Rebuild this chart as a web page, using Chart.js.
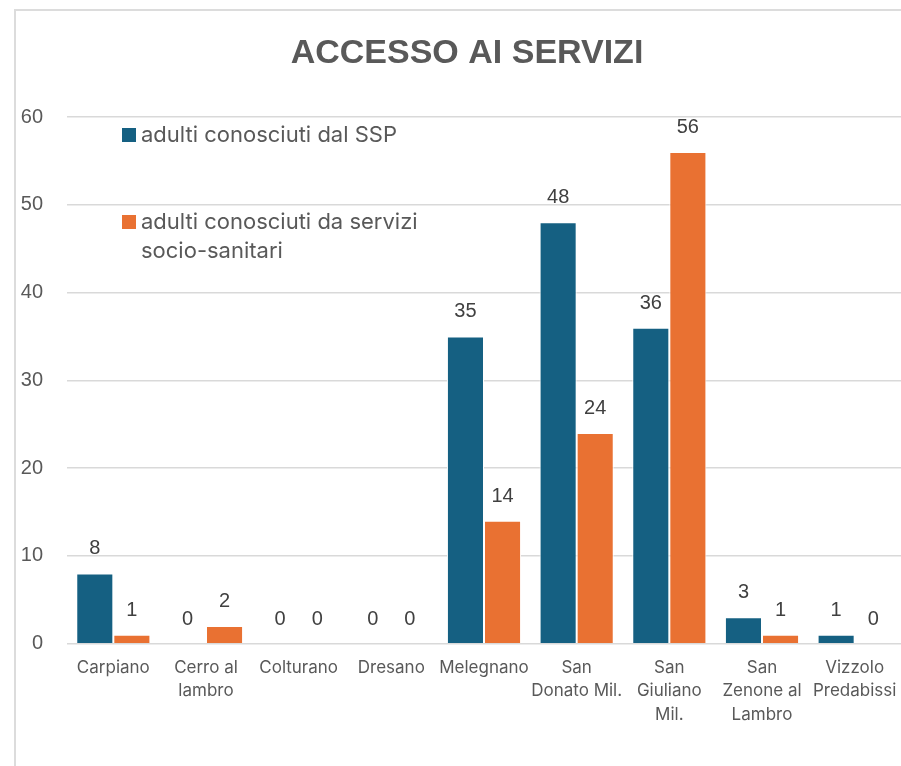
<!DOCTYPE html>
<html>
<head>
<meta charset="utf-8">
<title>Accesso ai servizi</title>
<script src="https://cdn.jsdelivr.net/npm/chart.js@4.4.1/dist/chart.umd.min.js"></script>
<style>
  html, body { margin: 0; padding: 0; background: #fff; }
  #wrap { position: relative; width: 901px; height: 766px; }
  #frame {
    position: absolute; left: 14px; top: 9px; right: 0; bottom: 0;
    border-left: 2px solid #dcdcdc; border-top: 2px solid #dcdcdc;
    pointer-events: none;
  }
</style>
</head>
<body>
<div id="wrap">
  <canvas id="chart" width="901" height="766"></canvas>
  <div id="frame"></div>
</div>
<script>
const titleText = 'ACCESSO AI SERVIZI';

const comuni = [
    ['Carpiano'],
    ['Cerro al', 'lambro'],
    ['Colturano'],
    ['Dresano'],
    ['Melegnano'],
    ['San', 'Donato Mil.'],
    ['San', 'Giuliano', 'Mil.'],
    ['San', 'Zenone al', 'Lambro'],
    ['Vizzolo', 'Predabissi']
];

const adultiSSP = [8, 0, 0, 0, 35, 48, 36, 3, 1];
const adultiSocioSanitari = [1, 2, 0, 0, 14, 24, 56, 1, 0];

const yTicks = [0, 10, 20, 30, 40, 50, 60];

const BLUE = '#156082';
const ORANGE = '#E97132';
const TEXT = '#595959';

// title drawn by hand so it can sit over the whole frame
const titlePlugin = {
    id: 'titolo',
    afterDraw(chart) {
        const c = chart.ctx;
        c.save();
        c.font = 'bold 34px "Liberation Sans", Arial, sans-serif';
        c.fillStyle = TEXT;
        c.textAlign = 'center';
        c.textBaseline = 'alphabetic';
        c.fillText(titleText, 467, 63);
        c.restore();
    }
};

// value above every bar
const valueLabels = {
    id: 'valori',
    afterDatasetsDraw(chart) {
        const c = chart.ctx;
        c.save();
        c.font = '20px "Liberation Sans", Arial, sans-serif';
        c.fillStyle = '#404040';
        c.textAlign = 'center';
        c.textBaseline = 'alphabetic';
        chart.data.datasets.forEach((ds, i) => {
            chart.getDatasetMeta(i).data.forEach((bar, j) => {
                c.fillText(String(ds.data[j]), bar.x, bar.y - 19);
            });
        });
        c.restore();
    }
};

// legend sitting inside the plot, top left
const innerLegend = {
    id: 'legendaInterna',
    afterDraw(chart) {
        const c = chart.ctx;
        const x0 = 122;
        const rows = [
            { y: 135, lines: ['adulti conosciuti dal SSP'] },
            { y: 222, lines: ['adulti conosciuti da servizi', 'socio-sanitari'] }
        ];
        c.save();
        c.font = '22px Inter, sans-serif';
        c.textBaseline = 'middle';
        c.textAlign = 'left';
        chart.data.datasets.forEach((ds, i) => {
            const r = rows[i];
            c.fillStyle = ds.backgroundColor;
            c.fillRect(x0, r.y - 7, 14, 14);
            c.fillStyle = TEXT;
            r.lines.forEach((t, k) => c.fillText(t, x0 + 19, r.y + k * 29));
        });
        c.restore();
    }
};

new Chart(document.getElementById('chart'), {
    type: 'bar',
    data: {
        labels: comuni,
        datasets: [{
            label: 'adulti conosciuti dal SSP',
            data: adultiSSP,
            backgroundColor: BLUE,
            borderColor: '#ffffff',
            borderWidth: 1,
            categoryPercentage: 0.8,
            barPercentage: 1.0
        }, {
            label: 'adulti conosciuti da servizi socio-sanitari',
            data: adultiSocioSanitari,
            backgroundColor: ORANGE,
            borderColor: '#ffffff',
            borderWidth: 1,
            categoryPercentage: 0.8,
            barPercentage: 1.0
        }]
    },
    options: {
        responsive: false,
        animation: false,
        layout: {
            padding: { left: 20, right: 0, top: 117, bottom: 27 }
        },
        scales: {
            x: {
                grid: { display: false, drawTicks: false },
                border: { display: false },
                afterFit(axis) {
                    axis.paddingLeft = 0;
                    axis.paddingRight = 0;
                },
                ticks: {
                    color: TEXT,
                    padding: 13,
                    maxRotation: 0,
                    autoSkip: false,
                    font: { family: 'Inter, sans-serif', size: 17, lineHeight: 1.36 }
                }
            },
            y: {
                min: 0,
                max: 60,
                afterBuildTicks(axis) {
                    axis.ticks = yTicks.map(v => ({ value: v }));
                },
                afterFit(axis) {
                    // labels plus their padding, nothing more
                    axis.width = 47;
                },
                grid: {
                    color: '#d9d9d9',
                    lineWidth: 1.5,
                    drawTicks: false
                },
                border: { display: false },
                ticks: {
                    color: TEXT,
                    padding: 24,
                    font: { family: '"Liberation Sans", Arial, sans-serif', size: 20 }
                }
            }
        },
        plugins: {
            legend: { display: false },
            title: { display: false },
            tooltip: { enabled: false }
        }
    },
    plugins: [titlePlugin, valueLabels, innerLegend]
});
</script>
</body>
</html>
